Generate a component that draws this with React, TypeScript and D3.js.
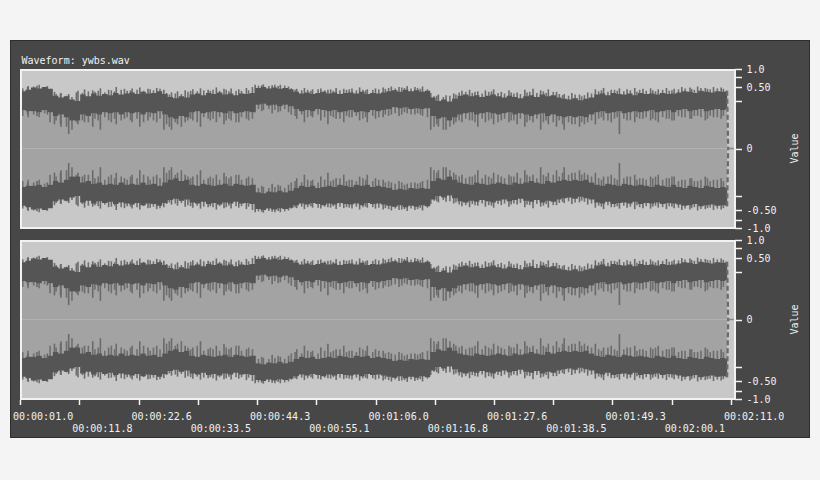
import React from "react";
import * as d3 from "d3";

// ---- data ----
const title = "Waveform: ywbs.wav";
const startTime = 1.0; // s
const endTime = 130.3; // s, where the signal fades to 0
const axisDomain = [1.0, 131.0];

// dark band outer edge (upper envelope), one value per second starting at t = 1 s
const hiEnv = [
  0.41, 0.44, 0.49, 0.47, 0.50, 0.46, 0.33, 0.30, 0.32, 0.27,
  0.25, 0.35, 0.32, 0.37, 0.33, 0.36, 0.34, 0.38, 0.35, 0.37,
  0.39, 0.36, 0.40, 0.37, 0.38, 0.41, 0.36, 0.31, 0.29, 0.32,
  0.30, 0.35, 0.37, 0.34, 0.38, 0.36, 0.39, 0.35, 0.37, 0.34,
  0.37, 0.36, 0.38, 0.48, 0.50, 0.47, 0.49, 0.46, 0.48, 0.45,
  0.40, 0.37, 0.39, 0.36, 0.38, 0.40, 0.37, 0.39, 0.36, 0.38,
  0.39, 0.37, 0.40, 0.36, 0.38, 0.37, 0.39, 0.41, 0.43, 0.40,
  0.44, 0.41, 0.43, 0.40, 0.42, 0.30, 0.25, 0.27, 0.24, 0.28,
  0.33, 0.35, 0.32, 0.34, 0.31, 0.33, 0.35, 0.32, 0.30, 0.33,
  0.31, 0.29, 0.32, 0.34, 0.31, 0.35, 0.32, 0.34, 0.30, 0.28,
  0.27, 0.29, 0.26, 0.28, 0.30, 0.35, 0.37, 0.34, 0.38, 0.36,
  0.35, 0.37, 0.34, 0.38, 0.36, 0.37, 0.35, 0.38, 0.36, 0.37,
  0.39, 0.41, 0.40, 0.38, 0.42, 0.40, 0.39, 0.41, 0.40, 0.42,
];
// inner edge of the dark band (RMS level)
const loEnv = [
  0.14, 0.13, 0.13, 0.12, 0.14, 0.12, 0.09, 0.10, 0.08, 0.06,
  0.06, 0.10, 0.09, 0.11, 0.10, 0.12, 0.11, 0.12, 0.10, 0.12,
  0.11, 0.12, 0.10, 0.12, 0.11, 0.13, 0.10, 0.08, 0.07, 0.09,
  0.08, 0.12, 0.13, 0.11, 0.12, 0.13, 0.12, 0.11, 0.13, 0.11,
  0.12, 0.13, 0.12, 0.20, 0.21, 0.19, 0.20, 0.18, 0.20, 0.18,
  0.15, 0.13, 0.14, 0.13, 0.15, 0.14, 0.13, 0.14, 0.12, 0.13,
  0.14, 0.12, 0.13, 0.12, 0.14, 0.13, 0.14, 0.15, 0.17, 0.16,
  0.17, 0.15, 0.16, 0.15, 0.16, 0.09, 0.07, 0.08, 0.06, 0.08,
  0.10, 0.11, 0.12, 0.10, 0.11, 0.12, 0.11, 0.10, 0.11, 0.12,
  0.10, 0.11, 0.10, 0.09, 0.10, 0.11, 0.09, 0.10, 0.09, 0.08,
  0.09, 0.08, 0.09, 0.08, 0.10, 0.12, 0.13, 0.11, 0.12, 0.13,
  0.11, 0.12, 0.13, 0.12, 0.13, 0.14, 0.12, 0.13, 0.14, 0.12,
  0.14, 0.15, 0.13, 0.14, 0.15, 0.13, 0.14, 0.15, 0.14, 0.15,
];
// large peak spikes: [time s, peak, trough-side extent]
const spikes: [number, number, number][] = [
  [1.2, 0.45, 0.05], [2.4, 0.50, 0.10], [4.1, 0.53, 0.09], [6.0, 0.52, 0.10],
  [7.3, 0.40, 0.04], [8.5, 0.38, 0.03], [9.9, 0.36, 0.01], [11.6, 0.42, 0.04],
  [12.8, 0.45, 0.05], [14.3, 0.43, 0.03], [15.7, 0.47, 0.02], [17.2, 0.44, 0.06],
  [18.6, 0.50, 0.04], [20.1, 0.46, 0.07], [21.5, 0.47, 0.05], [22.9, 0.49, 0.03],
  [24.4, 0.46, 0.06], [26.0, 0.48, 0.05], [27.3, 0.44, 0.02], [28.7, 0.39, 0.02],
  [29.8, 0.41, 0.04], [31.2, 0.43, 0.05], [32.6, 0.45, 0.06], [34.0, 0.47, 0.03],
  [35.4, 0.44, 0.07], [36.9, 0.49, 0.05], [38.3, 0.46, 0.04], [39.6, 0.47, 0.06],
  [41.0, 0.45, 0.05], [42.4, 0.48, 0.07], [44.0, 0.55, 0.12], [45.5, 0.56, 0.14],
  [47.1, 0.54, 0.11], [48.6, 0.55, 0.13], [50.1, 0.51, 0.12], [51.6, 0.46, 0.07],
  [53.0, 0.48, 0.05], [54.5, 0.45, 0.08], [56.0, 0.47, 0.06], [57.3, 0.44, 0.04],
  [58.8, 0.48, 0.07], [60.2, 0.46, 0.05], [61.7, 0.47, 0.08], [63.1, 0.49, 0.06],
  [64.5, 0.45, 0.05], [66.0, 0.47, 0.07], [67.4, 0.49, 0.08], [68.9, 0.51, 0.10],
  [70.3, 0.50, 0.09], [71.8, 0.52, 0.11], [73.2, 0.50, 0.10], [74.6, 0.51, 0.09],
  [76.1, 0.38, 0.02], [77.5, 0.35, 0.03], [78.9, 0.34, 0.02], [80.3, 0.37, 0.04],
  [81.8, 0.42, 0.05], [83.2, 0.44, 0.06], [84.7, 0.41, 0.03], [86.1, 0.43, 0.05],
  [87.6, 0.45, 0.04], [89.0, 0.40, 0.06], [90.4, 0.43, 0.05], [91.9, 0.39, 0.04],
  [93.3, 0.44, 0.03], [94.8, 0.46, 0.05], [96.2, 0.43, 0.02], [97.6, 0.45, 0.04],
  [99.1, 0.40, 0.03], [100.5, 0.36, 0.02], [101.9, 0.38, 0.04], [103.3, 0.35, 0.03],
  [104.8, 0.39, 0.05], [106.2, 0.45, 0.04], [107.7, 0.48, 0.06], [109.1, 0.44, 0.05],
  [110.6, 0.47, 0.01], [112.0, 0.45, 0.06], [113.4, 0.48, 0.05], [114.9, 0.46, 0.07],
  [116.3, 0.47, 0.06], [117.7, 0.45, 0.05], [119.2, 0.48, 0.07], [120.6, 0.46, 0.06],
  [122.0, 0.50, 0.08], [123.5, 0.49, 0.07], [124.9, 0.51, 0.09], [126.3, 0.48, 0.06],
  [127.8, 0.50, 0.08], [129.2, 0.49, 0.07],
];
// smaller in-between spikes: [time s, peak, trough-side extent]
const minorSpikes: [number, number, number][] = [
  [1.5, 0.47, 0.09], [2.5, 0.52, 0.08], [3.5, 0.51, 0.10], [4.5, 0.55, 0.08], [5.5, 0.49, 0.11],
  [6.5, 0.44, 0.05], [7.6, 0.36, 0.06], [8.4, 0.37, 0.04], [9.5, 0.33, 0.03], [10.5, 0.31, 0.02],
  [11.3, 0.39, 0.05], [12.4, 0.38, 0.06], [13.5, 0.41, 0.05], [14.7, 0.40, 0.07], [15.3, 0.42, 0.06],
  [16.5, 0.39, 0.08], [17.7, 0.43, 0.05], [18.3, 0.41, 0.07], [19.5, 0.44, 0.06], [20.6, 0.42, 0.08],
  [21.2, 0.43, 0.06], [22.4, 0.44, 0.07], [23.6, 0.42, 0.05], [24.8, 0.45, 0.08], [25.4, 0.43, 0.06],
  [26.6, 0.46, 0.07], [27.8, 0.38, 0.04], [28.3, 0.35, 0.03], [29.4, 0.37, 0.05], [30.5, 0.36, 0.03],
  [31.7, 0.40, 0.06], [32.2, 0.42, 0.07], [33.4, 0.41, 0.05], [34.6, 0.43, 0.08], [35.8, 0.42, 0.06],
  [36.3, 0.44, 0.07], [37.5, 0.42, 0.08], [38.7, 0.44, 0.06], [39.2, 0.41, 0.07], [40.5, 0.42, 0.05],
  [41.5, 0.42, 0.08], [42.8, 0.43, 0.06], [43.5, 0.50, 0.07], [44.6, 0.53, 0.15], [45.2, 0.54, 0.13],
  [46.5, 0.52, 0.15], [47.6, 0.55, 0.14], [48.2, 0.52, 0.12], [49.4, 0.53, 0.15], [50.6, 0.47, 0.10],
  [51.3, 0.44, 0.09], [52.5, 0.43, 0.10], [53.6, 0.44, 0.08], [54.2, 0.42, 0.09], [55.5, 0.45, 0.10],
  [56.7, 0.43, 0.08], [57.8, 0.45, 0.09], [58.3, 0.42, 0.08], [59.5, 0.43, 0.07], [60.7, 0.44, 0.09],
  [61.2, 0.45, 0.08], [62.5, 0.43, 0.09], [63.7, 0.44, 0.07], [64.2, 0.43, 0.08], [65.5, 0.44, 0.09],
  [66.6, 0.45, 0.08], [67.8, 0.46, 0.10], [68.4, 0.48, 0.09], [69.6, 0.47, 0.11], [70.8, 0.49, 0.10],
  [71.3, 0.48, 0.12], [72.5, 0.47, 0.10], [73.7, 0.48, 0.11], [74.2, 0.46, 0.10], [75.5, 0.45, 0.08],
  [76.7, 0.32, 0.03], [77.2, 0.33, 0.04], [78.4, 0.31, 0.02], [79.6, 0.33, 0.03], [80.7, 0.35, 0.05],
  [81.3, 0.39, 0.06], [82.5, 0.40, 0.07], [83.7, 0.38, 0.06], [84.2, 0.40, 0.05], [85.5, 0.37, 0.07],
  [86.7, 0.40, 0.06], [87.2, 0.41, 0.07], [88.4, 0.38, 0.05], [89.6, 0.37, 0.07], [90.8, 0.39, 0.06],
  [91.3, 0.37, 0.06], [92.5, 0.36, 0.07], [93.7, 0.39, 0.05], [94.2, 0.40, 0.06], [95.5, 0.38, 0.07],
  [96.7, 0.41, 0.05], [97.2, 0.38, 0.06], [98.5, 0.40, 0.05], [99.6, 0.36, 0.06], [100.2, 0.34, 0.04],
  [101.3, 0.33, 0.05], [102.5, 0.35, 0.04], [103.7, 0.32, 0.05], [104.2, 0.34, 0.04], [105.5, 0.37, 0.06],
  [106.8, 0.41, 0.07], [107.3, 0.43, 0.08], [108.5, 0.40, 0.06], [109.7, 0.44, 0.07], [110.2, 0.42, 0.08],
  [111.4, 0.41, 0.07], [112.6, 0.43, 0.06], [113.8, 0.40, 0.08], [114.3, 0.44, 0.07], [115.5, 0.42, 0.08],
  [116.7, 0.43, 0.07], [117.2, 0.41, 0.06], [118.5, 0.44, 0.08], [119.7, 0.42, 0.07], [120.2, 0.43, 0.06],
  [121.4, 0.45, 0.09], [122.6, 0.47, 0.08], [123.8, 0.46, 0.07], [124.3, 0.44, 0.09], [125.5, 0.48, 0.08],
  [126.7, 0.46, 0.07], [127.2, 0.45, 0.09], [128.5, 0.47, 0.08], [129.6, 0.46, 0.09],
];

const xTickValues = [1.0, 11.83, 22.67, 33.5, 44.33, 55.17, 66.0, 76.83, 87.67, 98.5, 109.33, 120.17, 131.0];
const xTickLabels = [
  "00:00:01.0", "00:00:11.8", "00:00:22.6", "00:00:33.5", "00:00:44.3", "00:00:55.1",
  "00:01:06.0", "00:01:16.8", "00:01:27.6", "00:01:38.5", "00:01:49.3", "00:02:00.1", "00:02:11.0",
];
const yTickValues = [1, 0.75, 0.5, 0.25, 0, -0.25, -0.5, -0.75, -1];
const yLabelValues = [1, 0.5, 0, -0.5, -1];
const yLabelTexts = ["1.0", "0.50", "0", "-0.50", "-1.0"];
const channels = ["left", "right"];
const yAxisTitle = "Value";

const FONT = "'DejaVu Sans Mono', 'Liberation Mono', monospace";

type Pt = { t: number; hi: number; lo: number };

function Channel({ top, x, id }: { top: number; x: d3.ScaleLinear<number, number>; id: string }) {
  const y = d3.scalePow().exponent(0.37).domain([-1, 1]).range([top + 159, top]);
  const pts: Pt[] = hiEnv.map((h, i) => ({ t: startTime + i, hi: h, lo: loEnv[i] }));
  const last = pts[pts.length - 1];
  const ptsEnd = [...pts, { t: endTime, hi: last.hi, lo: last.lo }];

  const lightArea = d3.area<Pt>().curve(d3.curveStepAfter).x(d => x(d.t)).y0(d => y(-d.lo)).y1(d => y(d.lo));
  const bandTop = d3.area<Pt>().curve(d3.curveStepAfter).x(d => x(d.t)).y0(d => y(d.lo)).y1(d => y(d.hi));
  const bandBot = d3.area<Pt>().curve(d3.curveStepAfter).x(d => x(d.t)).y0(d => y(-d.lo)).y1(d => y(-d.hi));
  const xl = x.range()[0];
  const xr = 735;
  const xEnd = x(endTime);
  const y0 = y(0);

  const spikeLines = (list: [number, number, number][], color: string, w: number, pre: string) =>
    list.map(([t, p, d], i) => (
      <g key={pre + i}>
        <line x1={x(t)} x2={x(t)} y1={y(p)} y2={y(d)} stroke={color} strokeWidth={w} />
        <line x1={x(t)} x2={x(t)} y1={y(-p)} y2={y(-d)} stroke={color} strokeWidth={w} />
      </g>
    ));

  return (
    <g>
      <defs>
        <clipPath id={`clip-${id}`}>
          <rect x={xl} y={top} width={xr - xl} height={160} />
        </clipPath>
      </defs>
      <rect x={xl} y={top} width={xr - xl + 1} height={160} fill="#c8c8c8" />
      <g clipPath={`url(#clip-${id})`}>
        <path d={lightArea(ptsEnd) || ""} fill="#a3a3a3" />
        {spikeLines(minorSpikes, "#6e6e6e", 1.6, "m")}
        {spikeLines(spikes, "#6a6a6a", 1.6, "s")}
        <path d={bandTop(ptsEnd) || ""} fill="#555555" />
        <path d={bandBot(ptsEnd) || ""} fill="#555555" />
        <line x1={xl} x2={xEnd} y1={y0} y2={y0} stroke="#b2b2b2" strokeWidth={1} />
        <line x1={xEnd} x2={xr} y1={y0} y2={y0} stroke="#8a8a8a" strokeWidth={1.5} />
        <line x1={xEnd} x2={xEnd + 1} y1={y(last.hi)} y2={y0} stroke="#6a6a6a" strokeWidth={2.2} strokeDasharray="5,3" />
        <line x1={xEnd} x2={xEnd + 1} y1={y(-last.hi)} y2={y0} stroke="#6a6a6a" strokeWidth={2.2} strokeDasharray="5,3" />
      </g>
      <rect x={xl + 1} y={top + 1} width={xr - xl - 1} height={158} fill="none" stroke="#f2f2f2" strokeWidth={2} />
      {yTickValues.map(v => {
        const yy = Math.round(y(v)) + 0.5;
        return <line key={v} x1={735} x2={742} y1={yy} y2={yy} stroke="#f2f2f2" strokeWidth={1.5} />;
      })}
      {yLabelValues.map((v, i) => (
        <text key={v} x={746.5} y={y(v) + 3.6} fill="#f2f2f2" fontSize={10} fontFamily={FONT}>
          {yLabelTexts[i]}
        </text>
      ))}
      <text
        transform={`translate(794, ${top + 79.5}) rotate(-90)`}
        textAnchor="middle"
        dominantBaseline="central"
        fill="#f2f2f2"
        fontSize={10}
        fontFamily={FONT}
      >
        {yAxisTitle}
      </text>
    </g>
  );
}

export default function App() {
  const x = d3.scaleLinear().domain(axisDomain).range([20, 731]);
  const tops = [69, 240];
  return (
    <svg width={820} height={480} style={{ position: "absolute", left: 0, top: 0, display: "block" }}>
      <rect x={0} y={0} width={820} height={480} fill="#f4f4f4" />
      <rect x={10.5} y={40.5} width={799} height={397} fill="#474747" stroke="#2e2e2e" strokeWidth={1} />
      <text x={21.5} y={63.5} fill="#f2f2f2" fontSize={10} fontFamily={FONT}>
        {title}
      </text>
      {channels.map((c, i) => (
        <Channel key={c} id={c} top={tops[i]} x={x} />
      ))}
      {xTickValues.map((v, i) => {
        const xx = Math.round(x(v)) + 0.5;
        return (
          <g key={v}>
            <line x1={xx} x2={xx} y1={400} y2={405} stroke="#f2f2f2" strokeWidth={1.5} />
            <text x={x(v) - 7} y={i % 2 === 0 ? 420 : 432} fill="#f2f2f2" fontSize={10} fontFamily={FONT}>
              {xTickLabels[i]}
            </text>
          </g>
        );
      })}
    </svg>
  );
}
